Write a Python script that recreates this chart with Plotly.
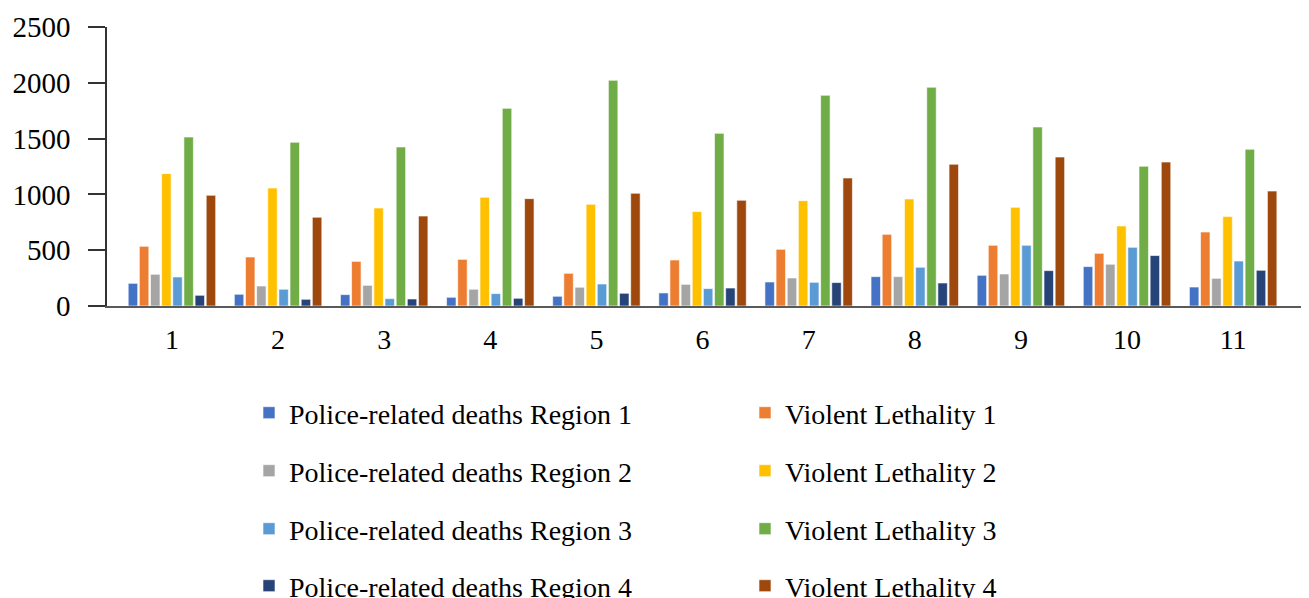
import plotly.graph_objects as go

categories = ["1", "2", "3", "4", "5", "6", "7", "8", "9", "10", "11"]

series_names = [
    "Police-related deaths Region 1", "Violent Lethality 1",
    "Police-related deaths Region 2", "Violent Lethality 2",
    "Police-related deaths Region 3", "Violent Lethality 3",
    "Police-related deaths Region 4", "Violent Lethality 4",
]

police_1 = [203, 105, 102, 78, 87, 117, 215, 263, 275, 353, 170]
violent_1 = [535, 439, 400, 418, 293, 412, 508, 642, 544, 472, 663]
police_2 = [284, 179, 185, 150, 168, 194, 251, 263, 287, 374, 248]
violent_2 = [1186, 1057, 878, 974, 911, 846, 944, 959, 884, 717, 801]
police_3 = [260, 150, 66, 111, 197, 156, 212, 347, 544, 526, 403]
violent_3 = [1514, 1467, 1425, 1771, 2022, 1547, 1888, 1960, 1604, 1252, 1404]
police_4 = [96, 60, 63, 69, 114, 161, 210, 206, 317, 452, 320]
violent_4 = [992, 795, 806, 962, 1010, 947, 1147, 1270, 1335, 1290, 1030]

series_values = [police_1, violent_1, police_2, violent_2,
                 police_3, violent_3, police_4, violent_4]

colors = ["#4472C4", "#ED7D31", "#A5A5A5", "#FFC000",
          "#5B9BD5", "#70AD47", "#264478", "#9E480E"]

y_ticks = [0, 500, 1000, 1500, 2000, 2500]

FONT = "Liberation Serif"
legend_ids = ["legend", "legend", "legend2", "legend2",
              "legend3", "legend3", "legend4", "legend4"]

fig = go.Figure()
for name, vals, col, lg in zip(series_names, series_values, colors, legend_ids):
    fig.add_trace(go.Bar(
        x=categories, y=vals, name=name, legend=lg,
        marker=dict(color=col, line=dict(color="white", width=0.6)),
    ))

# page has an 8px body margin; figure sized to fill the rest of the window
OFF = 8
W, H = 1309 - OFF, 598 - OFF
ml, mr, mt, mb = 107 - OFF, 2, 27 - OFF, 598 - 306
pw = W - ml - mr
ph = H - mt - mb


def px_to_paper_y(py):
    return (H - mb - (py - OFF)) / ph


legend_x = (249 - 107) / pw
rows_y = [413, 471, 529, 586]
leg_common = dict(
    orientation="h", xanchor="left", yanchor="middle", x=legend_x,
    entrywidth=451, font=dict(family=FONT, size=28, color="#000"),
    bgcolor="rgba(0,0,0,0)", itemclick=False,
)
layout_legends = {}
for i, key in enumerate(["legend", "legend2", "legend3", "legend4"]):
    layout_legends[key] = dict(leg_common, y=px_to_paper_y(rows_y[i]))

fig.update_layout(
    width=W, height=H,
    margin=dict(l=ml, r=mr, t=mt, b=mb, autoexpand=False),
    paper_bgcolor="white", plot_bgcolor="white",
    barmode="group", bargap=0.16, bargroupgap=0.15,
    font=dict(family=FONT, color="#000"),
    showlegend=True,
    **layout_legends,
)

fig.update_xaxes(
    type="category", range=[-0.612, 10.696],
    showline=True, linecolor="#595959", linewidth=2,
    showgrid=False, ticks="", tickfont=dict(family=FONT, size=28, color="#000"),
    ticklabelstandoff=7, zeroline=False,
)
fig.update_yaxes(
    range=[0, 2500], tickvals=y_ticks,
    showline=True, linecolor="#333333", linewidth=1.5,
    ticks="outside", ticklen=17, tickcolor="#333333", tickwidth=1.5,
    showgrid=False, zeroline=False,
    tickfont=dict(family=FONT, size=29, color="#000"),
    ticklabelstandoff=12,
)

fig.write_html("out.html")
